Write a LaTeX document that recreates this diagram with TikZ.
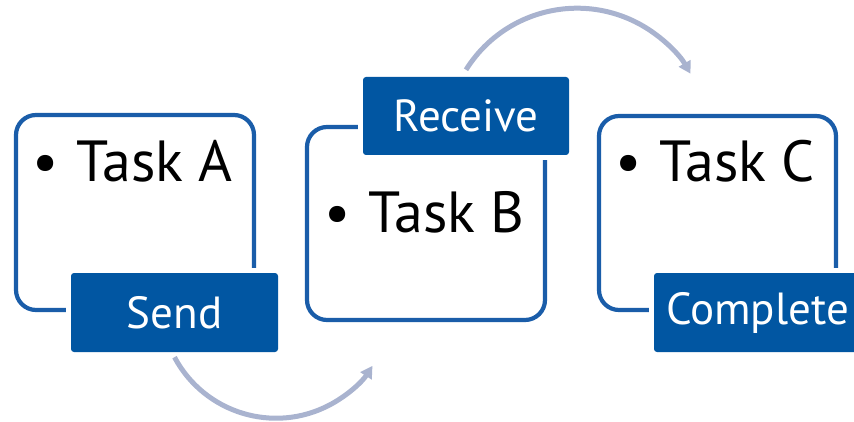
\documentclass[tikz,border=0pt]{standalone}
\usepackage{fontspec}
\setmainfont{PT Sans}
\usetikzlibrary{arrows.meta}
\definecolor{boxblue}{HTML}{1A5DA9}
\definecolor{labelblue}{HTML}{0156A2}
\definecolor{arcgray}{HTML}{A9B3CF}
\begin{document}
\begin{tikzpicture}[x=1pt,y=-1pt,
  taskbox/.style={draw=boxblue, line width=4.2pt, rounded corners=20pt, fill=white, inner sep=0pt},
  tag/.style={fill=labelblue, rounded corners=3pt, text=white, font=\fontsize{45}{49}\selectfont, inner sep=0pt, preaction={draw=white, line width=10pt}},
  item/.style={anchor=base west, font=\fontsize{58}{62}\selectfont, inner sep=0pt},
  flow/.style={draw=arcgray, line width=5pt, -{Triangle[length=12pt,width=13pt]}}]
\useasboundingbox (0,0) rectangle (854,422);
% boxes
\node[taskbox, minimum width=238pt, minimum height=195pt] (boxA) at (135,212.5) {};
\node[taskbox, minimum width=238pt, minimum height=193pt] (boxB) at (426,223.5) {};
\node[taskbox, minimum width=237pt, minimum height=194pt] (boxC) at (717.5,213) {};
% items
\node[item] (ta) at (32,182) {\makebox[44pt][l]{•}Task A};
\node[item] (tb) at (324,233) {\makebox[44pt][l]{•}Task B};
\node[item] (tc) at (615,182) {\makebox[44pt][l]{•}Task C};
% tags
\node[tag, minimum width=207pt, minimum height=79pt] (send) at (174.5,312.5) {Send};
\node[tag, minimum width=206pt, minimum height=78pt] (receive) at (466,116) {Receive};
\node[tag, minimum width=207pt, minimum height=79pt] (complete) at (757.5,312.5) {Complete};
% flows
\draw[flow] ([yshift=-5pt]send.south) arc[start angle=208, end angle=327, radius=115pt];
\draw[flow] ([yshift=7pt]receive.north) arc[start angle=148, end angle=30, radius=131pt];
\end{tikzpicture}
\end{document}
